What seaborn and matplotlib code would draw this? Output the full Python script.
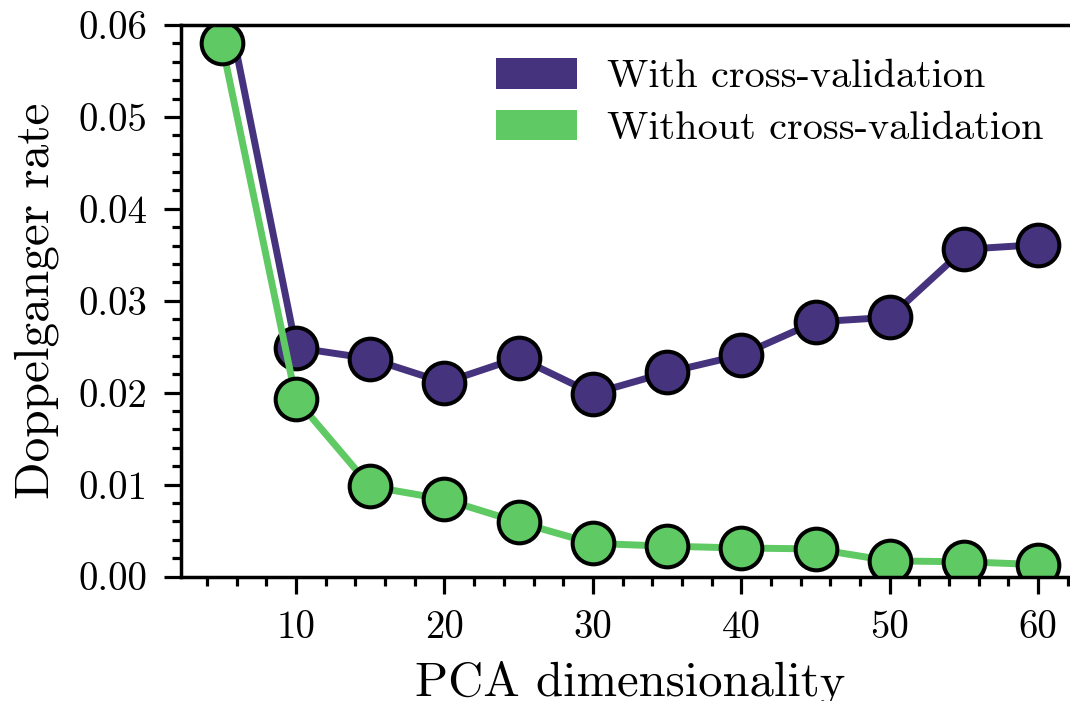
import numpy as np
import pandas as pd
import matplotlib
matplotlib.use("Agg")
import matplotlib.pyplot as plt
from matplotlib.patches import Patch
from matplotlib.ticker import MultipleLocator
import seaborn as sns

dims = [5, 10, 15, 20, 25, 30, 35, 40, 45, 50, 55, 60]
with_cv = [0.0650, 0.0249, 0.0237, 0.0211, 0.0238, 0.0199, 0.0222, 0.0241, 0.0277, 0.0282, 0.0356, 0.0361]
without_cv = [0.0580, 0.0193, 0.0098, 0.0084, 0.0059, 0.0036, 0.0033, 0.0031, 0.0030, 0.0017, 0.0016, 0.0013]
labels = ["With cross-validation", "Without cross-validation"]
colors = ["#46337E", "#5FC964"]

df = pd.DataFrame({
    "dim": dims * 2,
    "rate": with_cv + without_cv,
    "method": [labels[0]] * len(dims) + [labels[1]] * len(dims),
})

sns.set_style("ticks")
plt.rcParams["font.family"] = ["cmr10", "DejaVu Serif"]
plt.rcParams["mathtext.fontset"] = "cm"
plt.rcParams["axes.formatter.use_mathtext"] = True
plt.rcParams["text.color"] = "black"
plt.rcParams["axes.labelcolor"] = "black"

fig = plt.figure(figsize=(10.70, 7.01), dpi=100)
W, H = 1070, 701
left, right, top, bottom = 181, 1079, 25, 576.5
ax = fig.add_axes([left / W, (H - bottom) / H, (right - left) / W, (bottom - top) / H])

sns.lineplot(data=df, x="dim", y="rate", hue="method", hue_order=labels,
             palette=colors, marker="o", markersize=30, markeredgecolor="black",
             markeredgewidth=2.9, linewidth=5, legend=False, ax=ax)

ax.set_xlim(2.25, 62.75)
ax.set_ylim(0, 0.06)
ax.xaxis.set_minor_locator(MultipleLocator(2))
ax.yaxis.set_minor_locator(MultipleLocator(0.002))
ax.set_yticks([0, 0.01, 0.02, 0.03, 0.04, 0.05, 0.06])
ax.set_yticklabels(["0.00", "0.01", "0.02", "0.03", "0.04", "0.05", "0.06"])
ax.set_xticks([10, 20, 30, 40, 50, 60])
ax.set_xticklabels(["10", "20", "30", "40", "50", "60"])

for s in ax.spines.values():
    s.set_linewidth(2.5)
    s.set_color("black")
ax.tick_params(which="major", direction="out", length=12, width=2.3, labelsize=28, pad=12, colors="black")
ax.tick_params(which="minor", direction="out", length=6.5, width=2.3, colors="black")
ax.tick_params(top=False, right=False, which="both")

ax.set_xlabel("PCA dimensionality", fontsize=35, labelpad=11, color="black")
ax.set_ylabel("Doppelganger rate", fontsize=35.5, labelpad=14, color="black")

handles = [Patch(facecolor=c, edgecolor="none") for c in colors]
ax.legend(handles, labels, loc="upper left",
          bbox_to_anchor=((496 - left) / (right - left), (bottom - 58) / (bottom - top)),
          frameon=False, fontsize=29, borderpad=0, borderaxespad=0,
          handlelength=2.0, handleheight=0.8, handletextpad=0.75, labelspacing=0.35)

fig.savefig("out.png", dpi=100)
